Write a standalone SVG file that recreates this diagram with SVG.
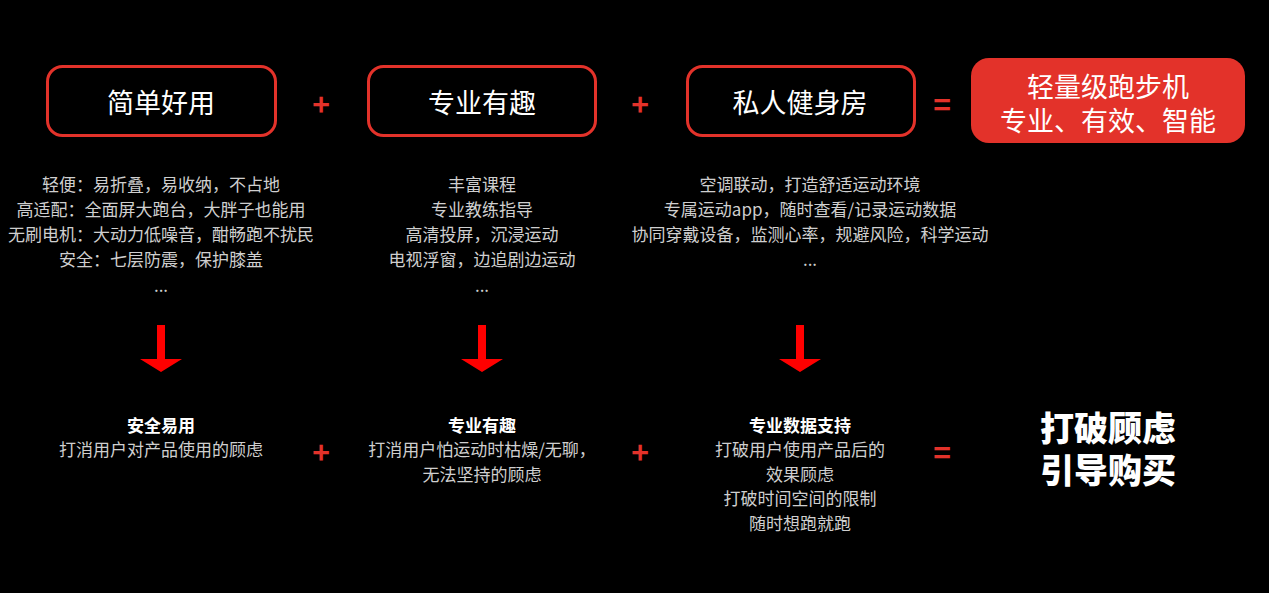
<svg xmlns="http://www.w3.org/2000/svg" width="1269" height="593" viewBox="0 0 1269 593">
<defs>
<style>
text{font-family:"Noto Sans CJK SC","Noto Sans",sans-serif;text-anchor:middle;dominant-baseline:central}
.box{fill:#000;stroke:#e3322a;stroke-width:3}
.title{fill:#fff;font-size:27px}
.desc{fill:#cfcfcf;font-size:17px}
.sub{fill:#fff;font-size:17px;font-weight:bold}
.op{fill:#e3322a;font-size:30px;font-weight:bold}
.big{fill:#fff;font-size:34px;font-weight:900}
.arrow{fill:#ff0000}
</style>
</defs>
<rect width="1269" height="593" fill="#000"/>
<g id="node-simple">
<rect class="box" x="47.5" y="66.5" width="228" height="69" rx="15"/>
<text class="title" x="161" y="101">简单好用</text>
</g>
<g id="node-pro">
<rect class="box" x="368.5" y="66.5" width="227" height="69" rx="15"/>
<text class="title" x="482" y="101">专业有趣</text>
</g>
<g id="node-gym">
<rect class="box" x="687.5" y="66.5" width="227" height="69" rx="15"/>
<text class="title" x="800" y="101">私人健身房</text>
</g>
<g id="node-result">
<rect x="971" y="58" width="274" height="85" rx="18" fill="#e3322a"/>
<text class="title" x="1108" y="85" font-size="28">轻量级跑步机</text>
<text class="title" x="1108" y="119" font-size="28">专业、有效、智能</text>
</g>
<g id="ops">
<text class="op" x="321" y="103">+</text>
<text class="op" x="640" y="103">+</text>
<text class="op" x="942" y="103">=</text>
<text class="op" x="321" y="451">+</text>
<text class="op" x="640" y="451">+</text>
<text class="op" x="942" y="451">=</text>
</g>
<g id="desc-simple">
<text class="desc" x="161" y="183">轻便：易折叠，易收纳，不占地</text>
<text class="desc" x="161" y="208">高适配：全面屏大跑台，大胖子也能用</text>
<text class="desc" x="161" y="233">无刷电机：大动力低噪音，酣畅跑不扰民</text>
<text class="desc" x="161" y="258">安全：七层防震，保护膝盖</text>
<text class="desc" x="161" y="284">...</text>
</g>
<g id="desc-pro">
<text class="desc" x="482" y="183">丰富课程</text>
<text class="desc" x="482" y="208">专业教练指导</text>
<text class="desc" x="482" y="233">高清投屏，沉浸运动</text>
<text class="desc" x="482" y="258">电视浮窗，边追剧边运动</text>
<text class="desc" x="482" y="284">...</text>
</g>
<g id="desc-gym">
<text class="desc" x="810" y="183">空调联动，打造舒适运动环境</text>
<text class="desc" x="810" y="208">专属运动app，随时查看/记录运动数据</text>
<text class="desc" x="810" y="233">协同穿戴设备，监测心率，规避风险，科学运动</text>
<text class="desc" x="810" y="258">...</text>
</g>
<g id="connectors">
<path class="arrow" d="M157 325h8v34h17l-21 13l-21-13h17z"/>
<path class="arrow" d="M478 325h8v34h17l-21 13l-21-13h17z"/>
<path class="arrow" d="M796 325h8v34h17l-21 13l-21-13h17z"/>
</g>
<g id="out-simple">
<text class="sub" x="161" y="424">安全易用</text>
<text class="desc" x="161" y="448">打消用户对产品使用的顾虑</text>
</g>
<g id="out-pro">
<text class="sub" x="482" y="424">专业有趣</text>
<text class="desc" x="482" y="448">打消用户怕运动时枯燥/无聊，</text>
<text class="desc" x="482" y="473">无法坚持的顾虑</text>
</g>
<g id="out-gym">
<text class="sub" x="800" y="424">专业数据支持</text>
<text class="desc" x="800" y="448">打破用户使用产品后的</text>
<text class="desc" x="800" y="473">效果顾虑</text>
<text class="desc" x="800" y="497">打破时间空间的限制</text>
<text class="desc" x="800" y="522">随时想跑就跑</text>
</g>
<g id="out-result">
<text class="big" x="1108" y="426">打破顾虑</text>
<text class="big" x="1108" y="468">引导购买</text>
</g>
</svg>
